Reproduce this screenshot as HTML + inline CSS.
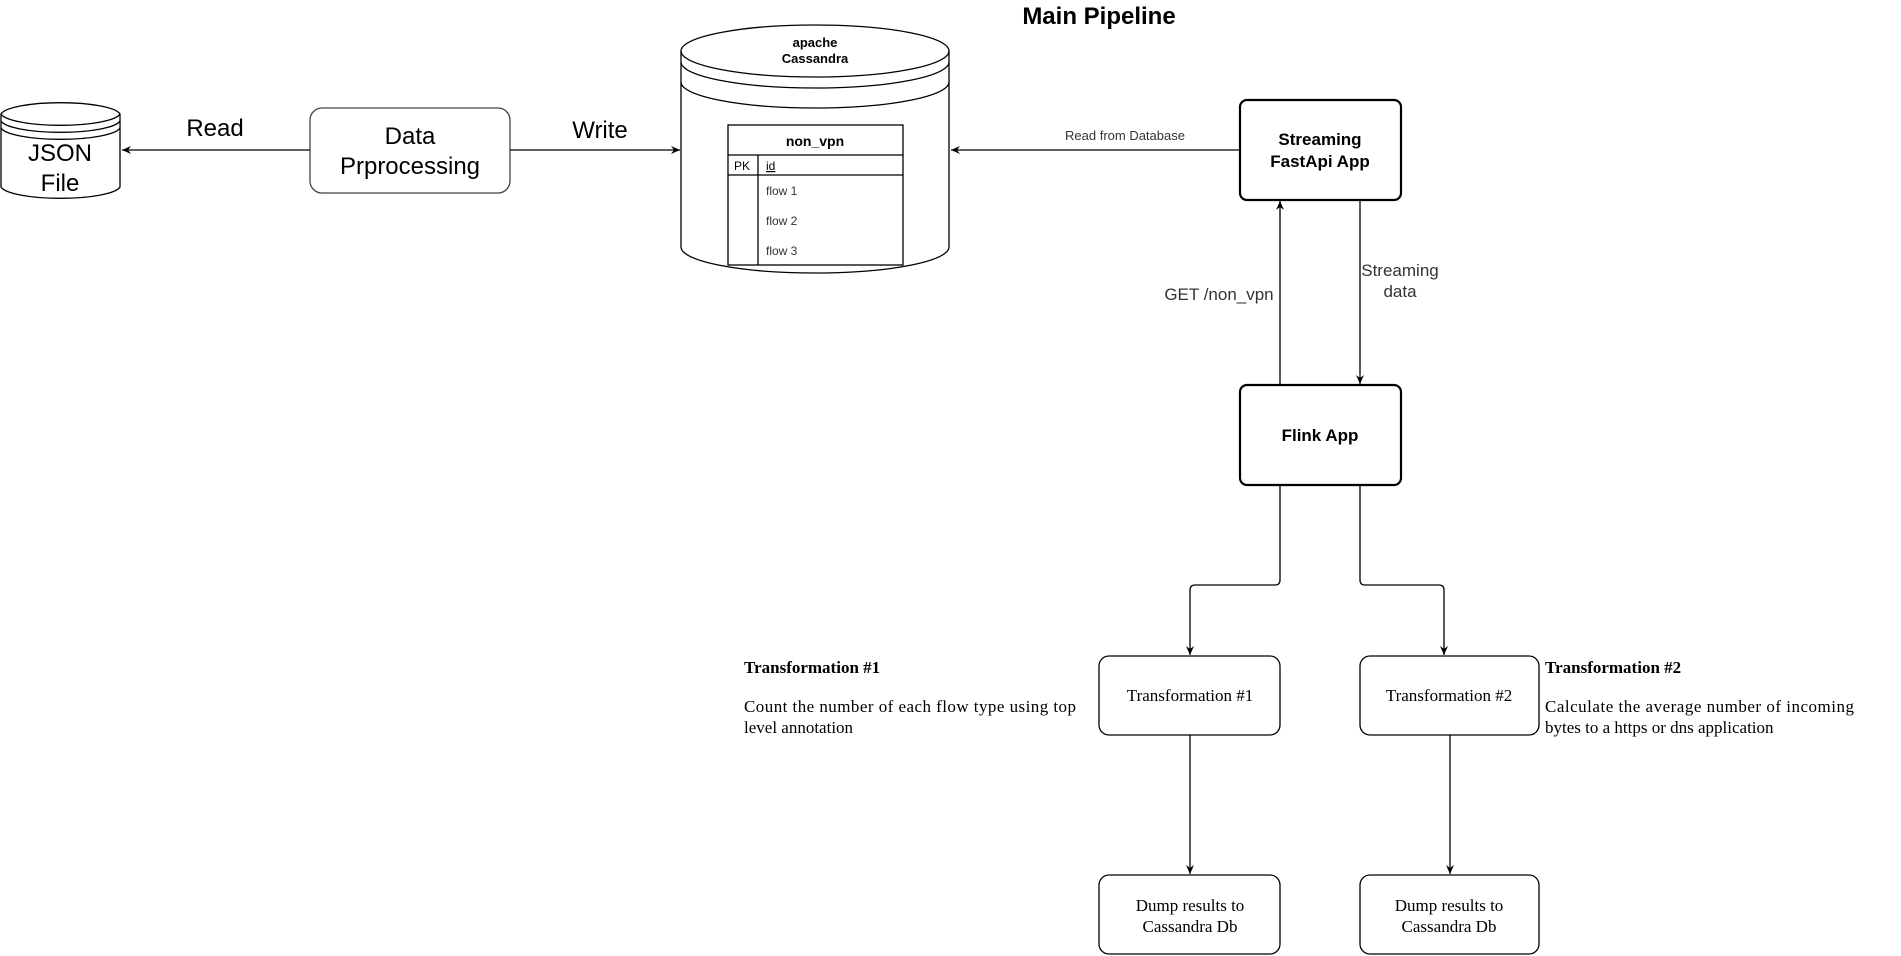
<!DOCTYPE html>
<html><head><meta charset="utf-8"><style>
html,body{margin:0;padding:0;background:#fff;}
svg{display:block;}
.s{font-family:"Liberation Sans",sans-serif;}
.r{font-family:"Liberation Serif",serif;}
</style></head><body>
<svg width="1901" height="956" viewBox="0 0 1901 956" xmlns="http://www.w3.org/2000/svg">
<defs>
<marker id="a" markerWidth="10" markerHeight="10" refX="9" refY="5" orient="auto" markerUnits="userSpaceOnUse">
<path d="M0,1 L9,5 L0,9 L3,5 Z" fill="#000"/>
</marker>
</defs>
<g fill="none" stroke="#000" stroke-width="1.3">
<text x="1099" y="24" class="s" font-size="24" font-weight="bold" text-anchor="middle" fill="#000" stroke="none">Main Pipeline</text>

<path d="M1,114 A60,13 0 0 1 120,114 L120,187 A60,13 0 0 1 1,187 Z" fill="#fff"/>
<path d="M1,114 A60,13 0 0 0 120,114 M1,121 A60,13 0 0 0 120,121 M1,128 A60,13 0 0 0 120,128"/>
<text x="60" y="161" class="s" font-size="24" text-anchor="middle" fill="#000" stroke="none">JSON</text>
<text x="60" y="191" class="s" font-size="24" text-anchor="middle" fill="#000" stroke="none">File</text>

<rect x="310" y="108" width="200" height="85" rx="12" fill="#fff" stroke="#444"/>
<text x="410" y="144" class="s" font-size="24" text-anchor="middle" fill="#000" stroke="none">Data</text>
<text x="410" y="174" class="s" font-size="24" text-anchor="middle" fill="#000" stroke="none">Prprocessing</text>
<line x1="310" y1="150" x2="122" y2="150" marker-end="url(#a)"/>
<text x="215" y="136" class="s" font-size="24" text-anchor="middle" fill="#000" stroke="none">Read</text>
<line x1="510" y1="150" x2="680" y2="150" marker-end="url(#a)"/>
<text x="600" y="138" class="s" font-size="24" text-anchor="middle" fill="#000" stroke="none">Write</text>

<path d="M681,51 A134,26 0 0 1 949,51 L949,247 A134,26 0 0 1 681,247 Z" fill="#fff"/>
<path d="M681,51 A134,26 0 0 0 949,51 M681,62 A134,26 0 0 0 949,62 M681,82 A134,26 0 0 0 949,82"/>
<text x="815" y="47" class="s" font-size="13" font-weight="bold" text-anchor="middle" fill="#000" stroke="none">apache</text>
<text x="815" y="63" class="s" font-size="13" font-weight="bold" text-anchor="middle" fill="#000" stroke="none">Cassandra</text>
<rect x="728" y="125" width="175" height="140" fill="#fff"/>
<line x1="728" y1="155" x2="903" y2="155"/>
<line x1="728" y1="175" x2="903" y2="175"/>
<line x1="758" y1="155" x2="758" y2="265"/>
<text x="815" y="146" class="s" font-size="14" font-weight="bold" text-anchor="middle" fill="#000" stroke="none">non_vpn</text>
<text x="734" y="170" class="s" font-size="12" fill="#000" stroke="none">PK</text>
<text x="766" y="170" class="s" font-size="12" fill="#000" stroke="none" text-decoration="underline">id</text>
<text x="766" y="195" class="s" font-size="12" fill="#333" stroke="none">flow 1</text>
<text x="766" y="225" class="s" font-size="12" fill="#333" stroke="none">flow 2</text>
<text x="766" y="255" class="s" font-size="12" fill="#333" stroke="none">flow 3</text>

<rect x="1240" y="100" width="161" height="100" rx="7" fill="#fff" stroke-width="2.2"/>
<text x="1320" y="145" class="s" font-size="17" font-weight="bold" text-anchor="middle" fill="#000" stroke="none">Streaming</text>
<text x="1320" y="167" class="s" font-size="17" font-weight="bold" text-anchor="middle" fill="#000" stroke="none">FastApi App</text>
<line x1="1240" y1="150" x2="951" y2="150" marker-end="url(#a)"/>
<text x="1125" y="140" class="s" font-size="13" text-anchor="middle" fill="#333" stroke="none">Read from Database</text>

<rect x="1240" y="385" width="161" height="100" rx="7" fill="#fff" stroke-width="2.2"/>
<text x="1320" y="441" class="s" font-size="17" font-weight="bold" text-anchor="middle" fill="#000" stroke="none">Flink App</text>
<line x1="1280" y1="385" x2="1280" y2="201" marker-end="url(#a)"/>
<line x1="1360" y1="200" x2="1360" y2="384" marker-end="url(#a)"/>
<text x="1219" y="300" class="s" font-size="17" text-anchor="middle" fill="#333" stroke="none">GET /non_vpn</text>
<text x="1400" y="276" class="s" font-size="17" text-anchor="middle" fill="#333" stroke="none">Streaming</text>
<text x="1400" y="297" class="s" font-size="17" text-anchor="middle" fill="#333" stroke="none">data</text>

<path d="M1280,485 L1280,580 Q1280,585 1275,585 L1195,585 Q1190,585 1190,590 L1190,655" marker-end="url(#a)"/>
<path d="M1360,485 L1360,580 Q1360,585 1365,585 L1439,585 Q1444,585 1444,590 L1444,655" marker-end="url(#a)"/>

<rect x="1099" y="656" width="181" height="79" rx="10" fill="#fff"/>
<text x="1190" y="701" class="r" font-size="17" text-anchor="middle" fill="#000" stroke="none">Transformation #1</text>
<rect x="1360" y="656" width="179" height="79" rx="10" fill="#fff"/>
<text x="1449" y="701" class="r" font-size="17" text-anchor="middle" fill="#000" stroke="none">Transformation #2</text>
<line x1="1190" y1="735" x2="1190" y2="874" marker-end="url(#a)"/>
<line x1="1450" y1="735" x2="1450" y2="874" marker-end="url(#a)"/>

<rect x="1099" y="875" width="181" height="79" rx="10" fill="#fff"/>
<text x="1190" y="911" class="r" font-size="17" text-anchor="middle" fill="#000" stroke="none">Dump results to</text>
<text x="1190" y="932" class="r" font-size="17" text-anchor="middle" fill="#000" stroke="none">Cassandra Db</text>
<rect x="1360" y="875" width="179" height="79" rx="10" fill="#fff"/>
<text x="1449" y="911" class="r" font-size="17" text-anchor="middle" fill="#000" stroke="none">Dump results to</text>
<text x="1449" y="932" class="r" font-size="17" text-anchor="middle" fill="#000" stroke="none">Cassandra Db</text>

<text x="744" y="673" class="r" font-size="17" font-weight="bold" fill="#000" stroke="none">Transformation #1</text>
<text x="744" y="712" class="r" font-size="17" fill="#000" stroke="none" textLength="332" lengthAdjust="spacing">Count the number of each flow type using top</text>
<text x="744" y="733" class="r" font-size="17" fill="#000" stroke="none">level annotation</text>
<text x="1545" y="673" class="r" font-size="17" font-weight="bold" fill="#000" stroke="none">Transformation #2</text>
<text x="1545" y="712" class="r" font-size="17" fill="#000" stroke="none" textLength="309" lengthAdjust="spacing">Calculate the average number of  incoming</text>
<text x="1545" y="733" class="r" font-size="17" fill="#000" stroke="none">bytes to a https or dns application</text>
</g>
</svg>
</body></html>
